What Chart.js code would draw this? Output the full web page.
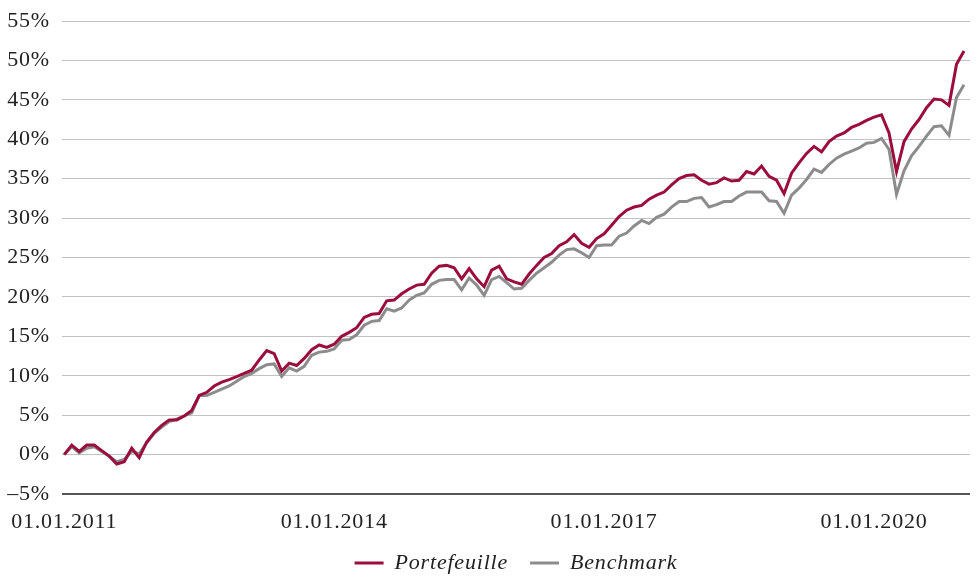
<!DOCTYPE html>
<html>
<head>
<meta charset="utf-8">
<script src="https://cdn.jsdelivr.net/npm/chart.js@4.4.1/dist/chart.umd.min.js"></script>
<style>
  html, body { margin: 0; padding: 0; background: #fff; }
  #wrap { width: 977px; height: 578px; }
</style>
</head>
<body>
<div id="wrap"><canvas id="chart"></canvas></div>
<script>
// monthly performance since 01.01.2011, in %
const portefeuille = [
    0, 1.2, 0.4, 1.2, 1.2, 0.5, -0.2, -1.2, -0.9, 0.8, -0.4, 1.6,
    2.8, 3.7, 4.4, 4.4, 4.9, 5.6, 7.5, 7.9, 8.7, 9.2, 9.5, 9.9,
    10.3, 10.7, 12.0, 13.2, 12.8, 10.6, 11.6, 11.3, 12.2, 13.3, 13.9, 13.6,
    14.0, 15.0, 15.5, 16.1, 17.4, 17.8, 17.9, 19.5, 19.6, 20.4, 21.0, 21.5,
    21.6, 23.0, 23.9, 24.0, 23.7, 22.3, 23.6, 22.3, 21.3, 23.4, 23.9, 22.3,
    21.9, 21.6, 22.9, 24.0, 25.0, 25.5, 26.5, 27.0, 27.9, 26.8, 26.3, 27.4,
    28.0, 29.1, 30.2, 31.0, 31.4, 31.6, 32.4, 32.9, 33.3, 34.2, 35.0, 35.4,
    35.5, 34.8, 34.3, 34.5, 35.1, 34.7, 34.8, 35.9, 35.6, 36.6, 35.3, 34.8,
    33.1, 35.7, 37.0, 38.2, 39.1, 38.4, 39.7, 40.4, 40.8, 41.5, 41.9, 42.4,
    42.8, 43.1, 40.8, 35.9, 39.7, 41.3, 42.5, 44.0, 45.1, 45.0, 44.3, 49.5,
    51.2
];
const benchmark = [
    0, 1.0, 0.2, 0.8, 1.0, 0.4, -0.2, -0.9, -0.6, 0.4, 0.1, 1.5,
    2.7, 3.5, 4.2, 4.5, 4.9, 5.3, 7.5, 7.5, 7.9, 8.3, 8.7, 9.3,
    9.9, 10.3, 10.9, 11.4, 11.5, 9.9, 11.0, 10.6, 11.2, 12.6, 13.0, 13.1,
    13.4, 14.5, 14.6, 15.2, 16.4, 16.9, 17.0, 18.5, 18.2, 18.6, 19.6, 20.2,
    20.5, 21.6, 22.1, 22.2, 22.2, 20.9, 22.4, 21.5, 20.2, 22.2, 22.6, 21.8,
    21.0, 21.1, 22.1, 23.0, 23.7, 24.4, 25.3, 26.0, 26.1, 25.6, 25.0, 26.5,
    26.6, 26.6, 27.7, 28.1, 29.0, 29.7, 29.3, 30.1, 30.5, 31.4, 32.1, 32.1,
    32.5, 32.6, 31.4, 31.7, 32.1, 32.1, 32.8, 33.3, 33.3, 33.3, 32.2, 32.1,
    30.6, 32.9, 33.8, 34.9, 36.2, 35.8, 36.8, 37.6, 38.1, 38.5, 38.9, 39.5,
    39.6, 40.1, 38.7, 33.0, 36.0, 37.9, 39.1, 40.4, 41.6, 41.7, 40.5, 45.3,
    46.9
];
// x tick positions (months since start) and their labels
const tickMonths = [0, 36, 72, 108];
const tickLabels = ['01.01.2011', '01.01.2014', '01.01.2017', '01.01.2020'];

const red = '#9b0d3c';
const grey = '#8c8c8c';

Chart.defaults.font.family = "'Liberation Serif', 'Times New Roman', serif";
Chart.defaults.font.size = 22;
Chart.defaults.color = '#222';

const spacing = {
    id: 'spacing',
    beforeLayout(chart) { chart.ctx.letterSpacing = '0.8px'; },
    beforeDraw(chart) { chart.ctx.letterSpacing = '0.8px'; }
};

function toPoints(values) {
    return values.map((v, i) => ({x: i, y: v}));
}

const data = {
    datasets: [{
        label: 'Portefeuille',
        data: toPoints(portefeuille),
        borderColor: red,
        backgroundColor: red,
        borderWidth: 3,
        pointRadius: 0,
        tension: 0
    }, {
        label: 'Benchmark',
        data: toPoints(benchmark),
        borderColor: grey,
        backgroundColor: grey,
        borderWidth: 3,
        pointRadius: 0,
        tension: 0
    }]
};

const config = {
    type: 'line',
    data,
    options: {
        responsive: true,
        maintainAspectRatio: false,
        animation: false,
        layout: {
            padding: {top: 21, right: 7, left: 0, bottom: 0}
        },
        scales: {
            x: {
                type: 'linear',
                min: -0.3,
                max: 120.8,
                grid: {display: false},
                border: {display: false},
                afterBuildTicks: scale => {
                    scale.ticks = tickMonths.map(v => ({value: v}));
                },
                afterFit: scale => {
                    scale.height = 36;
                },
                ticks: {
                    autoSkip: false,
                    maxRotation: 0,
                    padding: 7,
                    callback: value => tickLabels[tickMonths.indexOf(value)]
                }
            },
            y: {
                min: -5,
                max: 55,
                border: {display: false},
                grid: {
                    drawTicks: false,
                    color: c => c.tick.value === -5 ? '#555' : '#c2c2c2',
                    lineWidth: c => c.tick.value === -5 ? 2 : 1
                },
                afterFit: scale => {
                    scale.width = 62;
                },
                ticks: {
                    stepSize: 5,
                    padding: 12,
                    font: {lineHeight: 0.6},
                    callback: value => (value < 0 ? '\u2013' + Math.abs(value) : value) + '%'
                }
            }
        },
        plugins: {
            tooltip: {enabled: false},
            legend: {
                position: 'bottom',
                fullSize: false,
                maxHeight: 48,
                labels: {
                    boxWidth: 29,
                    boxHeight: 3,
                    padding: 22,
                    font: {style: 'italic', size: 22},
                    generateLabels: chart => Chart.defaults.plugins.legend.labels.generateLabels(chart)
                        .map(l => Object.assign(l, {lineWidth: 0}))
                }
            }
        }
    },
    plugins: [spacing]
};

new Chart(document.getElementById('chart'), config);
</script>
</body>
</html>
